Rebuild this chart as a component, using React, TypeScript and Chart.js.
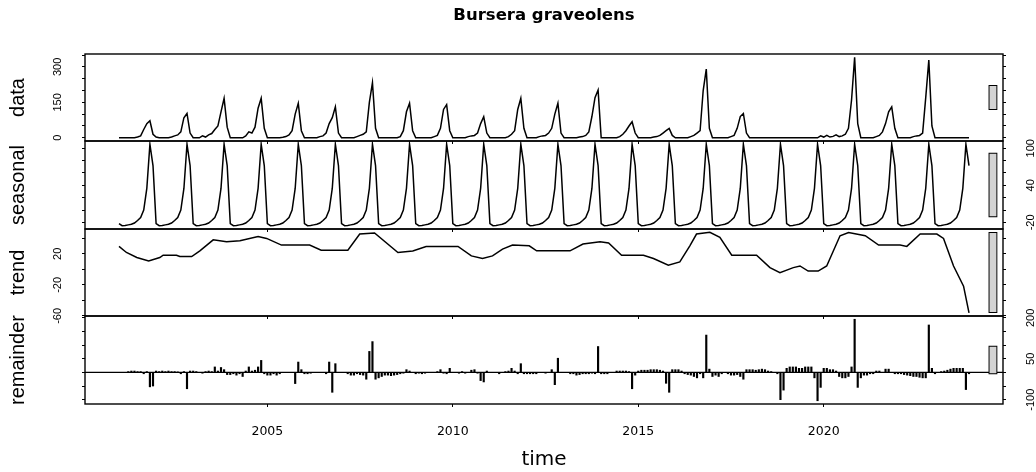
import { useEffect, useRef } from "react";
import { Chart, registerables } from "chart.js";

Chart.register(...registerables);

// ---------------- data (monthly, Jan 2001 .. Dec 2023) ----------------
const START_YEAR = 2001;
const TITLE = "Bursera graveolens";
const PANEL_LABELS = ["data", "seasonal", "trend", "remainder"];
const TIME_TICKS = [2005, 2010, 2015, 2020];

const dataValues = [
  0, 0, 0, 0, 0, 0, 3, 8, 35, 60, 72, 15,
  3, 0, 0, 0, 0, 3, 8, 12, 25, 85, 103, 20,
  0, 0, 0, 8, 3, 12, 18, 35, 50, 110, 167, 45,
  0, 0, 0, 0, 0, 8, 25, 20, 45, 125, 167, 40,
  0, 0, 0, 0, 0, 2, 5, 12, 30, 100, 146, 30,
  0, 0, 0, 0, 0, 5, 8, 20, 60, 85, 131, 20,
  0, 0, 0, 0, 0, 5, 10, 15, 25, 150, 233, 40,
  0, 0, 0, 0, 0, 0, 0, 5, 30, 110, 146, 30,
  0, 0, 0, 0, 0, 0, 5, 10, 40, 120, 140, 30,
  0, 0, 0, 0, 0, 5, 8, 10, 20, 60, 89, 20,
  0, 0, 0, 0, 0, 0, 5, 15, 30, 120, 167, 40,
  0, 0, 0, 0, 5, 8, 10, 20, 40, 100, 146, 20,
  0, 0, 0, 0, 0, 3, 5, 10, 25, 90, 170, 202,
  0, 0, 0, 0, 0, 0, 5, 15, 30, 50, 68, 20,
  0, 0, 0, 0, 0, 3, 5, 10, 20, 30, 40, 10,
  0, 0, 0, 0, 0, 5, 10, 20, 30, 200, 291, 40,
  0, 0, 0, 0, 0, 0, 5, 10, 40, 90, 103, 20,
  0, 0, 0, 0, 0, 0, 0, 0, 0, 0, 0, 0,
  0, 0, 0, 0, 0, 0, 0, 0, 0, 0, 0, 8,
  3, 10, 3, 6, 12, 5, 8, 15, 40, 160, 341, 60,
  0, 0, 0, 0, 0, 5, 10, 25, 60, 110, 131, 40,
  0, 0, 0, 0, 0, 5, 8, 10, 20, 170, 329, 50,
  0, 0, 0, 0, 0, 0, 0, 0, 0, 0, 0, 0,
];

// seasonal component (one year, Jan..Dec, repeated every year)
const seasonalPattern = [-22, -25.4, -25, -24, -23, -21, -17, -12, 0, 35, 106.5, 72];

// trend component (read at irregular times)
const trendTimes = [
  2001.0, 2001.2, 2001.48, 2001.8, 2002.1, 2002.19, 2002.55, 2002.64, 2002.96, 2003.18,
  2003.54, 2003.9, 2004.26, 2004.75, 2004.98, 2005.38, 2006.14, 2006.45, 2007.17, 2007.49,
  2007.89, 2008.52, 2008.92, 2009.28, 2010.14, 2010.5, 2010.8, 2011.07, 2011.34, 2011.61,
  2012.06, 2012.26, 2013.16, 2013.51, 2013.97, 2014.2, 2014.55, 2015.14, 2015.41, 2015.81,
  2016.12, 2016.39, 2016.57, 2016.93, 2017.2, 2017.52, 2018.19, 2018.55, 2018.82, 2019.18,
  2019.36, 2019.58, 2019.85, 2020.08, 2020.44, 2020.67, 2021.12, 2021.48, 2022.06, 2022.24,
  2022.6, 2023.05, 2023.23, 2023.5, 2023.77, 2023.917,
];
const trendValues = [
  29.5, 21.7, 15.2, 10.8, 15.2, 18.2, 18.2, 16.5, 16.5, 23.8,
  38, 35.5, 36.8, 42.4, 39.8, 31.2, 31.2, 24.7, 24.7, 45.5,
  46.8, 21.7, 23.6, 29.5, 29.5, 17.3, 13.9, 17.3, 26, 31.2,
  30.3, 23.8, 23.8, 32.5, 35.5, 34, 18.2, 18.2, 13.9, 5.2,
  9.5, 30.3, 45.5, 47.8, 41.1, 18.2, 18.2, 2.2, -4.3, 2.2,
  4.3, -2.2, -2.2, 4.3, 43.3, 47.5, 43.3, 31.2, 31.2, 29.5,
  45.5, 45.5, 39.8, 4.3, -21.7, -56,
];

const remainderValues = [
  0, 0, 0, 3, 5, 5, 3, 3, -5, 3, -53, -50,
  5, 3, 5, 3, 5, 3, 3, 2, -5, 3, -60, 5,
  5, 3, 0, -3, 3, 5, 3, 20, 5, 18, 10, -8,
  -8, -5, -10, -5, -15, 5, 20, 5, 8, 20, 44, -5,
  -10, -10, -5, -10, -5, 0, 0, 0, 0, -41, 38, 10,
  -5, -5, -3, 0, 0, 0, 0, -5, 38, -73, 32, 0,
  0, 0, -5, -10, -10, -5, -8, -10, -25, 77, 113, -25,
  -20, -15, -10, -10, -12, -10, -8, -5, -3, 10, 5, 0,
  -5, -3, -5, -3, 0, 0, 0, 3, 10, -3, -5, 15,
  0, 0, -3, 3, -3, 0, 8, 10, -3, -30, -35, 5,
  0, 0, 0, -5, 0, 3, 5, 15, 5, -5, 32, -5,
  -5, -5, -5, -5, 0, 0, -3, 0, 10, -45, 52, 0,
  0, 0, -5, -5, -10, -8, -5, -5, -5, -3, -5, 95,
  -5, -5, -5, 0, 0, 5, 5, 5, 5, 3, -60, -10,
  5, 8, 8, 8, 10, 10, 10, 8, 5, -40, -73, 10,
  10, 10, 5, -5, -8, -10, -15, -20, -5, -20, 137, 12,
  -15, -10, -15, -5, 0, -5, -10, -10, -8, -15, -25, 10,
  10, 10, 8, 10, 12, 10, 5, 3, 0, -5, -100, -65,
  15, 20, 20, 20, 15, 15, 20, 20, 20, -20, -104, -55,
  15, 15, 10, 10, 5, -15, -20, -20, -15, 20, 195, -55,
  -20, -10, -10, -5, -5, 5, 5, 0, 12, 12, 0, -5,
  -5, -5, -8, -10, -12, -15, -15, -18, -20, -20, 174, 15,
  -5, 0, 3, 5, 8, 12, 15, 15, 15, 15, -63, -5,
];

// axis tick values and the labelled subset
const dataTicks = [0, 50, 100, 150, 200, 250, 300, 350];
const dataTickLabels = [0, 150, 300];
const seasonalTicks = [-20, 0, 20, 40, 60, 80, 100];
const seasonalTickLabels = [-20, 40, 100];
const trendTicks = [-60, -40, -20, 0, 20, 40];
const trendTickLabels = [-60, -20, 20];
const remainderTicks = [-100, -50, 0, 50, 100, 150, 200];
const remainderTickLabels = [-100, 50, 200];

// ---------------- layout ----------------
const W = 1036;
const H = 472;
const PLOT_LEFT = 85;
const PLOT_RIGHT = 1003;
const PANEL_TOPS = [54, 141, 229, 316];
const PANEL_BOTTOMS = [141, 229, 316, 404];
const FONT = "'Liberation Sans', Arial, Helvetica, sans-serif";
const WIDE_FONT = "'DejaVu Sans', Verdana, sans-serif";

const times = dataValues.map((_, i) => START_YEAR + i / 12);
const seasonalValues = dataValues.map((_, i) => seasonalPattern[i % 12]);

function rangeOf(v: number[]) {
  return [Math.min(...v), Math.max(...v)];
}

const tMin = times[0];
const tMax = times[times.length - 1];
const X_MIN = tMin - 0.04 * (tMax - tMin);
const X_MAX = tMax + 0.04 * (tMax - tMin);

const series = [dataValues, seasonalValues, trendValues, remainderValues];
const ranges = series.map(rangeOf);
const minRange = Math.min(...ranges.map((r) => r[1] - r[0]));
const panelTicks = [dataTicks, seasonalTicks, trendTicks, remainderTicks];
const panelLabels = [dataTickLabels, seasonalTickLabels, trendTickLabels, remainderTickLabels];

const boxPlugin = {
  id: "panelBox",
  afterDraw(chart: any) {
    const { ctx, chartArea } = chart;
    ctx.save();
    ctx.strokeStyle = "#000";
    ctx.lineWidth = 1.4;
    ctx.strokeRect(chartArea.left, chartArea.top, chartArea.right - chartArea.left, chartArea.bottom - chartArea.top);
    ctx.restore();
  },
};

function measure(text: string, font: string) {
  const c = document.createElement("canvas").getContext("2d")!;
  c.font = font;
  return c.measureText(text).width;
}

function makeConfig(p: number): any {
  const last = p === 3;
  const [lo, hi] = ranges[p];
  const pad = 0.04 * (hi - lo);
  const yMin = lo - pad;
  const yMax = hi + pad;
  const mid = (lo + hi) / 2;
  const dxYears = (X_MAX - X_MIN) / 64;
  const plotW = PLOT_RIGHT - PLOT_LEFT;
  const barPx = (0.6 * plotW) / 64;
  const labelsOnRight = p % 2 === 1;
  const shown = panelLabels[p];
  const tickFont = "11px " + FONT;
  const widest = Math.max(...shown.map((v) => measure(String(v), tickFont)));
  const leftPad = PLOT_LEFT - 3 - 57.5 - widest / 2;
  const rightPad = 1031 - PLOT_RIGHT - 3 - widest / 2;
  const xAxisH = last ? H - PANEL_BOTTOMS[3] : 4;

  const datasets: any[] = [];
  if (!last) {
    const pts =
      p === 2
        ? trendTimes.map((t, i) => ({ x: t, y: trendValues[i] }))
        : times.map((t, i) => ({ x: t, y: series[p][i] }));
    datasets.push({
      type: "line",
      data: pts,
      borderColor: "#000",
      borderWidth: 1.5,
      pointRadius: 0,
      tension: 0,
      yAxisID: "y",
      order: 2,
    });
  } else {
    datasets.push({
      type: "bar",
      data: times.map((t, i) => ({ x: t, y: remainderValues[i] })),
      backgroundColor: "#000",
      borderWidth: 0,
      barThickness: 1.5,
      grouped: false,
      yAxisID: "y",
      order: 2,
    });
    datasets.push({
      type: "line",
      data: [
        { x: X_MIN, y: 0 },
        { x: X_MAX, y: 0 },
      ],
      borderColor: "#000",
      borderWidth: 1.3,
      pointRadius: 0,
      yAxisID: "y",
      order: 3,
    });
  }
  datasets.push({
    type: "bar",
    data: [{ x: X_MAX - 0.7 * dxYears, y: [mid - minRange / 2, mid + minRange / 2] }],
    backgroundColor: "#d3d3d3",
    borderColor: "#000",
    borderWidth: 1.2,
    borderSkipped: false,
    barThickness: barPx,
    grouped: false,
    yAxisID: "y",
    order: 1,
  });

  const yCommon = (pos: "left" | "right", withLabels: boolean) => ({
    type: "linear",
    position: pos,
    min: yMin,
    max: yMax,
    afterBuildTicks: (s: any) => {
      s.ticks = panelTicks[p].map((v) => ({ value: v }));
    },
    afterFit: (s: any) => {
      s.width = pos === "left" ? PLOT_LEFT : W - PLOT_RIGHT;
    },
    border: { display: false },
    grid: {
      display: true,
      drawOnChartArea: false,
      drawTicks: true,
      tickLength: 3,
      color: "#000",
      lineWidth: 1,
    },
    ticks: {
      display: withLabels,
      autoSkip: false,
      minRotation: 90,
      maxRotation: 90,
      crossAlign: "center",
      padding: pos === "left" ? leftPad : rightPad,
      color: "#000",
      font: { family: FONT, size: 11 },
      callback: (v: number) => (shown.includes(v) ? String(v) : ""),
    },
    title:
      pos === "left"
        ? {
            display: true,
            text: PANEL_LABELS[p],
            color: "#000",
            font: { family: FONT, size: 20 },
            padding: { top: 6.5, bottom: 0 },
          }
        : { display: false },
  });

  return {
    type: "line",
    data: { datasets },
    plugins: [boxPlugin],
    options: {
      animation: false,
      responsive: false,
      events: [],
      layout: {
        padding: {
          left: 0,
          right: 0,
          top: p === 0 ? 0 : PANEL_TOPS[p],
          bottom: H - PANEL_BOTTOMS[p] - xAxisH,
        },
      },
      plugins: {
        legend: { display: false },
        tooltip: { enabled: false },
        title: {
          display: p === 0,
          text: TITLE,
          color: "#000",
          fullSize: false,
          font: { family: WIDE_FONT, size: 16.5, weight: "bold" },
          padding: { top: 6.2, bottom: 54 - 6.2 - 19.8 },
        },
      },
      scales: {
        x: {
          type: "linear",
          position: "bottom",
          min: X_MIN,
          max: X_MAX,
          offset: false,
          afterBuildTicks: (s: any) => {
            s.ticks = TIME_TICKS.map((v) => ({ value: v }));
          },
          afterFit: (s: any) => {
            s.height = xAxisH;
          },
          border: { display: false },
          grid: {
            display: true,
            offset: false,
            drawOnChartArea: false,
            drawTicks: true,
            tickLength: 3,
            color: "#000",
            lineWidth: 1,
          },
          ticks: {
            display: last,
            autoSkip: false,
            maxRotation: 0,
            minRotation: 0,
            padding: 17,
            color: "#000",
            font: { family: WIDE_FONT, size: 12.5 },
            callback: (v: number) => String(v),
          },
          title: {
            display: last,
            text: "time",
            color: "#000",
            font: { family: WIDE_FONT, size: 20 },
            padding: { top: 0, bottom: 0 },
          },
        },
        y: yCommon("left", !labelsOnRight),
        y2: yCommon("right", labelsOnRight),
      },
    },
  };
}

function Panel({ index }: { index: number }) {
  const ref = useRef<HTMLCanvasElement | null>(null);
  useEffect(() => {
    if (!ref.current) return;
    const chart = new Chart(ref.current, makeConfig(index));
    return () => chart.destroy();
  }, [index]);
  return (
    <canvas
      ref={ref}
      width={W}
      height={H}
      style={{ position: "absolute", left: 0, top: 0, width: W, height: H }}
    />
  );
}

export default function App() {
  return (
    <div style={{ position: "fixed", left: 0, top: 0, width: W, height: H, background: "#fff" }}>
      {[0, 1, 2, 3].map((i) => (
        <Panel key={i} index={i} />
      ))}
    </div>
  );
}
